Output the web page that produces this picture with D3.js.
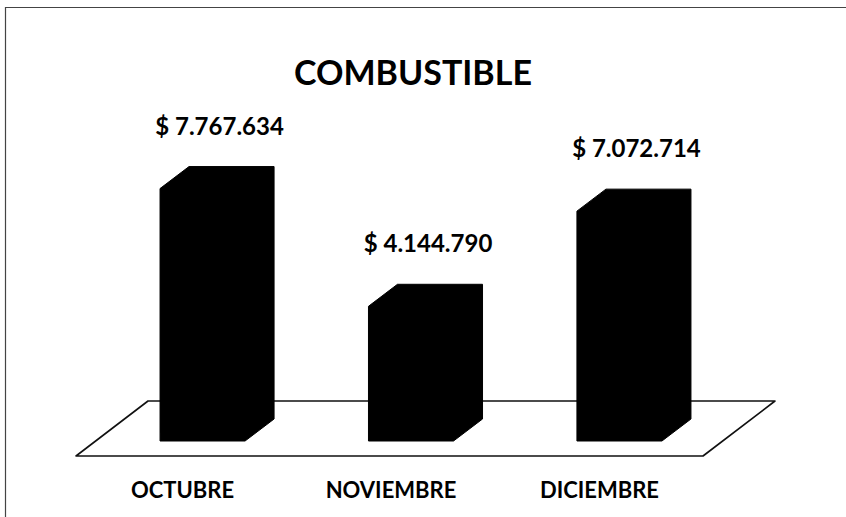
<!DOCTYPE html>
<html>
<head>
<meta charset="utf-8">
<script src="https://cdn.jsdelivr.net/npm/d3@7"></script>
<style>
  body { margin: 0; background: #fff; }
  text { font-family: Lato, "Open Sans", sans-serif; font-weight: 700; fill: #000; }
</style>
</head>
<body>
<div id="chart"></div>
<script>
// chart data
const chartTitle = "COMBUSTIBLE";
const months = ["OCTUBRE", "NOVIEMBRE", "DICIEMBRE"];
const amounts = [7767634, 4144790, 7072714];

// peso format: "$ 7.767.634"
const pesos = d3.formatLocale({
    decimal: ",",
    thousands: ".",
    grouping: [3],
    currency: ["$ ", ""]
}).format("$,d");

function drawChart() {
    const width = 846, height = 517;

    const svg = d3.select("#chart")
        .append("svg")
        .attr("width", width)
        .attr("height", height);

    // outer frame (only top and left edges are in view)
    svg.append("path")
        .attr("d", "M5.5," + height + "V7.5H" + width)
        .attr("fill", "none")
        .attr("stroke", "#444")
        .attr("stroke-width", 1.2);

    // 3d offsets
    const depthX = 29, depthY = 22;
    const baseY = 441;

    const x = d3.scaleBand()
        .domain(months)
        .range([97.5, 724.5])
        .paddingInner(0.592)
        .paddingOuter(0.3);

    const y = d3.scaleLinear()
        .domain([0, 8000000])
        .range([baseY, baseY - 260]);

    // floor
    const floorFront = baseY + 15, floorBack = floorFront - 55;
    const floorLeft = 76, floorRight = 703, floorShift = 72;
    svg.append("path")
        .attr("d", d3.line()([
            [floorLeft, floorFront],
            [floorLeft + floorShift, floorBack],
            [floorRight + floorShift, floorBack],
            [floorRight, floorFront]
        ]) + "Z")
        .attr("fill", "#fff")
        .attr("stroke", "#111")
        .attr("stroke-width", 1.6)
        .attr("stroke-linejoin", "round");

    const data = months.map((m, i) => ({month: m, value: amounts[i]}));

    // bars as extruded boxes
    svg.append("g")
        .selectAll("path")
        .data(data)
        .join("path")
        .attr("d", d => {
            const x0 = x(d.month), x1 = x0 + x.bandwidth();
            const top = y(d.value);
            return d3.line()([
                [x0, baseY],
                [x0, top],
                [x0 + depthX, top - depthY],
                [x1 + depthX, top - depthY],
                [x1 + depthX, baseY - depthY],
                [x1, baseY]
            ]) + "Z";
        })
        .attr("fill", "#000")
        .attr("stroke", "#000")
        .attr("stroke-width", 1);

    // value labels
    svg.append("g")
        .selectAll("text")
        .data(data)
        .join("text")
        .attr("x", d => x(d.month) + x.bandwidth() / 2 + 17)
        .attr("y", d => y(d.value) - depthY - 32)
        .attr("text-anchor", "middle")
        .style("font-size", "24px")
        .text(d => pesos(d.value));

    // category labels at the front edge of the floor
    svg.append("g")
        .selectAll("text")
        .data(data)
        .join("text")
        .attr("x", d => x(d.month) + x.bandwidth() / 2 - 20)
        .attr("y", 498)
        .attr("text-anchor", "middle")
        .style("font-size", "22px")
        .text(d => d.month);

    // title
    svg.append("text")
        .attr("x", 413)
        .attr("y", 85)
        .attr("text-anchor", "middle")
        .style("font-size", "34px")
        .text(chartTitle);
}

drawChart();
</script>
</body>
</html>
